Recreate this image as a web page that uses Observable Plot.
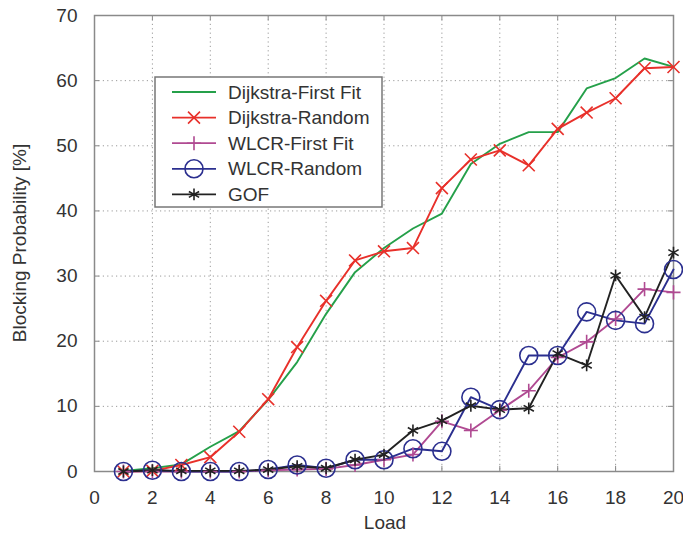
<!DOCTYPE html>
<html>
<head>
<meta charset="utf-8">
<script src="https://cdn.jsdelivr.net/npm/d3@7"></script>
<script src="https://cdn.jsdelivr.net/npm/@observablehq/plot@0.6"></script>
<style>
  html, body { margin: 0; padding: 0; background: #fff; }
  #chart { position: relative; width: 683px; height: 537px; overflow: hidden; }
</style>
</head>
<body>
<div id="chart"></div>
<script>
// ---- data ----
const load = [1,2,3,4,5,6,7,8,9,10,11,12,13,14,15,16,17,18,19,20];
const dijkstraFirstFit = [0.1,0.5,1.1,3.8,6.2,11.0,16.8,24.2,30.6,34.3,37.3,39.6,47.2,50.3,52.1,52.1,58.8,60.4,63.4,62.1];
const dijkstraRandom   = [0.0,0.1,1.0,2.2,6.1,11.1,19.1,26.2,32.4,33.8,34.3,43.5,47.9,49.3,47.0,52.6,55.1,57.3,61.9,62.1];
const wlcrFirstFit     = [0.0,0.0,0.0,0.0,0.0,0.2,0.3,0.4,1.0,1.8,2.6,7.7,6.3,9.4,12.4,17.5,19.9,23.4,28.0,27.5];
const wlcrRandom       = [0.0,0.2,0.0,0.0,0.0,0.3,1.0,0.5,1.8,1.8,3.5,3.1,11.4,9.5,17.8,17.8,24.5,23.2,22.7,31.0];
const gof              = [0.0,0.2,0.1,0.1,0.1,0.3,0.8,0.5,1.8,2.6,6.3,7.8,10.1,9.5,9.7,18.1,16.3,30.1,23.7,33.6];

const seriesNames  = ["Dijkstra-First Fit","Dijkstra-Random","WLCR-First Fit","WLCR-Random","GOF"];
const seriesValues = [dijkstraFirstFit, dijkstraRandom, wlcrFirstFit, wlcrRandom, gof];
const seriesColors = ["#25a04a","#e8302a","#b04a92","#2b2f8f","#222222"];
const seriesSymbols = [null,"times","plus","circle","asterisk"];
const seriesR = [0, 5.5, 4.6, 9, 5.6];

const xTicks = [0,2,4,6,8,10,12,14,16,18,20];
const yTicks = [0,10,20,30,40,50,60,70];
const xGrid = [2,4,6,8,10,12,14,16,18];
const yGrid = [10,20,30,40,50,60];

const rows = seriesNames.map((name, i) => load.map((x, j) => ({series: name, x, y: seriesValues[i][j]})));

const marks = [];
// grid
marks.push(Plot.ruleX(xGrid, {stroke: "#9a9a9a", strokeWidth: 1, strokeDasharray: "1.2,3.2"}));
marks.push(Plot.ruleY(yGrid, {stroke: "#9a9a9a", strokeWidth: 1, strokeDasharray: "1.2,3.2"}));
// inner ticks
marks.push(Plot.ruleX(xGrid, {y1: 0, y2: 0.8, stroke: "#888", strokeWidth: 1}));
marks.push(Plot.ruleX(xGrid, {y1: 70, y2: 69.2, stroke: "#888", strokeWidth: 1}));
marks.push(Plot.ruleY(yGrid, {x1: 0, x2: 0.18, stroke: "#888", strokeWidth: 1}));
marks.push(Plot.ruleY(yGrid, {x1: 20, x2: 19.82, stroke: "#888", strokeWidth: 1}));
marks.push(Plot.frame({stroke: "#8a8a8a", strokeWidth: 1.5}));
// series
seriesNames.forEach((name, i) => {
  marks.push(Plot.line(rows[i], {x: "x", y: "y", stroke: seriesColors[i], strokeWidth: 1.9}));
});
seriesNames.forEach((name, i) => {
  if (!seriesSymbols[i]) return;
  marks.push(Plot.dot(rows[i], {x: "x", y: "y", symbol: seriesSymbols[i], r: seriesR[i],
    stroke: seriesColors[i], fill: "none", strokeWidth: 1.6}));
});

const svg = Plot.plot({
  width: 683,
  height: 537,
  marginTop: 15,
  marginBottom: 66,
  marginLeft: 94,
  marginRight: 10,
  style: {fontFamily: "'Liberation Sans', Arial, sans-serif", fontSize: "19px", color: "#333", background: "#fff", overflow: "visible"},
  x: {domain: [0, 20], ticks: xTicks, tickSize: 0, tickPadding: 19, label: null, tickFormat: d3.format("d")},
  y: {domain: [0, 70], ticks: yTicks, tickSize: 0, tickPadding: 17, label: null, tickFormat: d3.format("d")},
  marks
});

document.getElementById("chart").appendChild(svg);

// axis titles
const s = d3.select(svg);
s.append("text").attr("x", 385).attr("y", 522).attr("text-anchor", "middle").attr("dy", "0.35em")
  .attr("fill", "#333").style("font-size", "19px").text("Load");
s.append("text").attr("transform", "translate(19,243) rotate(-90)").attr("text-anchor", "middle").attr("dy", "0.35em")
  .attr("fill", "#333").style("font-size", "19px").text("Blocking Probability [%]");

// legend
const lg = s.append("g");
lg.append("rect").attr("x", 155).attr("y", 77).attr("width", 227).attr("height", 130)
  .attr("fill", "#fff").attr("stroke", "#777").attr("stroke-width", 1.5);
const symMap = {times: d3.symbolTimes, plus: d3.symbolPlus, circle: d3.symbolCircle, asterisk: d3.symbolAsterisk};
seriesNames.forEach((name, i) => {
  const yy = 92 + i * 25.6;
  lg.append("line").attr("x1", 172).attr("x2", 216).attr("y1", yy).attr("y2", yy)
    .attr("stroke", seriesColors[i]).attr("stroke-width", 1.8);
  if (seriesSymbols[i]) {
    lg.append("path").attr("transform", `translate(194,${yy})`)
      .attr("d", d3.symbol(symMap[seriesSymbols[i]], Math.PI * seriesR[i] * seriesR[i])())
      .attr("fill", "none").attr("stroke", seriesColors[i]).attr("stroke-width", 1.6);
  }
  lg.append("text").attr("x", 228).attr("y", yy).attr("dy", "0.35em").attr("fill", "#333")
    .attr("text-anchor", "start").style("font-size", "19px").text(name);
});
</script>
</body>
</html>
